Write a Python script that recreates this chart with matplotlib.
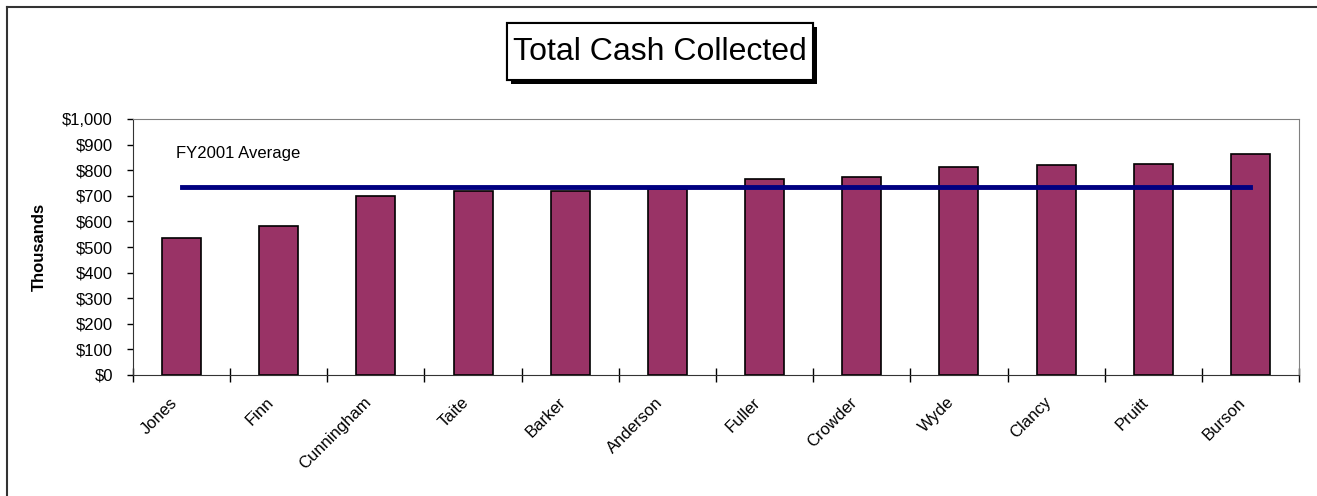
import numpy as np
import matplotlib.pyplot as plt
import matplotlib.patheffects as pe
from matplotlib.lines import Line2D
from matplotlib.patches import Rectangle
from matplotlib.transforms import ScaledTranslation

plt.rcParams['font.family'] = ['Liberation Sans', 'DejaVu Sans']

# podaci procitani sa slike (u tisucama $)
names = ['Jones', 'Finn', 'Cunningham', 'Taite', 'Barker', 'Anderson',
         'Fuller', 'Crowder', 'Wyde', 'Clancy', 'Pruitt', 'Burson']
cash = [535, 582, 699, 720, 720, 727, 764, 775, 812, 820, 824, 863]
fy2001_avg = 736
yticks = [0, 100, 200, 300, 400, 500, 600, 700, 800, 900, 1000]

W, H = 1317, 496
fig = plt.figure(figsize=(W / 100, H / 100), dpi=100)
ax = fig.add_axes([133 / W, 1 - 375 / H, 1166 / W, 256 / H])

x = np.arange(len(names))
ax.bar(x, cash, width=0.4, color='#993366', edgecolor='black', linewidth=1.2, zorder=2)

# linija prosjeka
ax.plot([x[0], x[-1]], [fy2001_avg, fy2001_avg], color='#000080', lw=3.5,
        solid_capstyle='projecting', zorder=3)
ax.text(-0.06, 867, 'FY2001 Average', fontsize=12, va='center', ha='left')

ax.set_xlim(-0.5, len(names) - 0.5)
ax.set_ylim(0, 1000)
ax.set_yticks(yticks)
ax.set_yticklabels([f'${v:,}' for v in yticks], fontsize=12)
ax.set_ylabel('Thousands', fontsize=12, fontweight='bold')
ax.yaxis.set_label_coords((47 - 133) / 1166, 0.5)

ax.set_xticks(x)
ax.set_xticklabels(names, fontsize=12, rotation=45, ha='right', va='center',
                   rotation_mode='anchor')
ax.set_xticks(np.arange(-0.5, len(names)), minor=True)
ax.tick_params(axis='x', which='major', length=0, pad=18)
ax.tick_params(axis='x', which='minor', direction='inout', length=10, width=1)
ax.tick_params(axis='y', direction='out', length=4, width=1, pad=10.5)
for lab in ax.get_xticklabels():
    lab.set_transform(lab.get_transform() + ScaledTranslation(-0.07, 0, fig.dpi_scale_trans))

for s in ['top', 'right']:
    ax.spines[s].set_color('#808080')
for s in ['left', 'bottom']:
    ax.spines[s].set_color('#333333')

# naslov u okviru sa sjenom
box = Rectangle((507 / W, 1 - 80 / H), 306 / W, 57 / H, transform=fig.transFigure,
                fc='white', ec='black', lw=1.5)
box.set_path_effects([pe.withSimplePatchShadow(offset=(3, -3), shadow_rgbFace='black', alpha=1),
                      pe.Normal()])
fig.add_artist(box)
fig.text(660 / W, 1 - 52 / H, 'Total Cash Collected', fontsize=23, ha='center', va='center')

# okvir slike (samo gore i lijevo)
fig.add_artist(Line2D([7 / W, 7 / W], [0, 1 - 7 / H], color='#333333', lw=1.5))
fig.add_artist(Line2D([7 / W, 1], [1 - 7 / H, 1 - 7 / H], color='#333333', lw=1.5))

fig.savefig('out.png', dpi=100)
